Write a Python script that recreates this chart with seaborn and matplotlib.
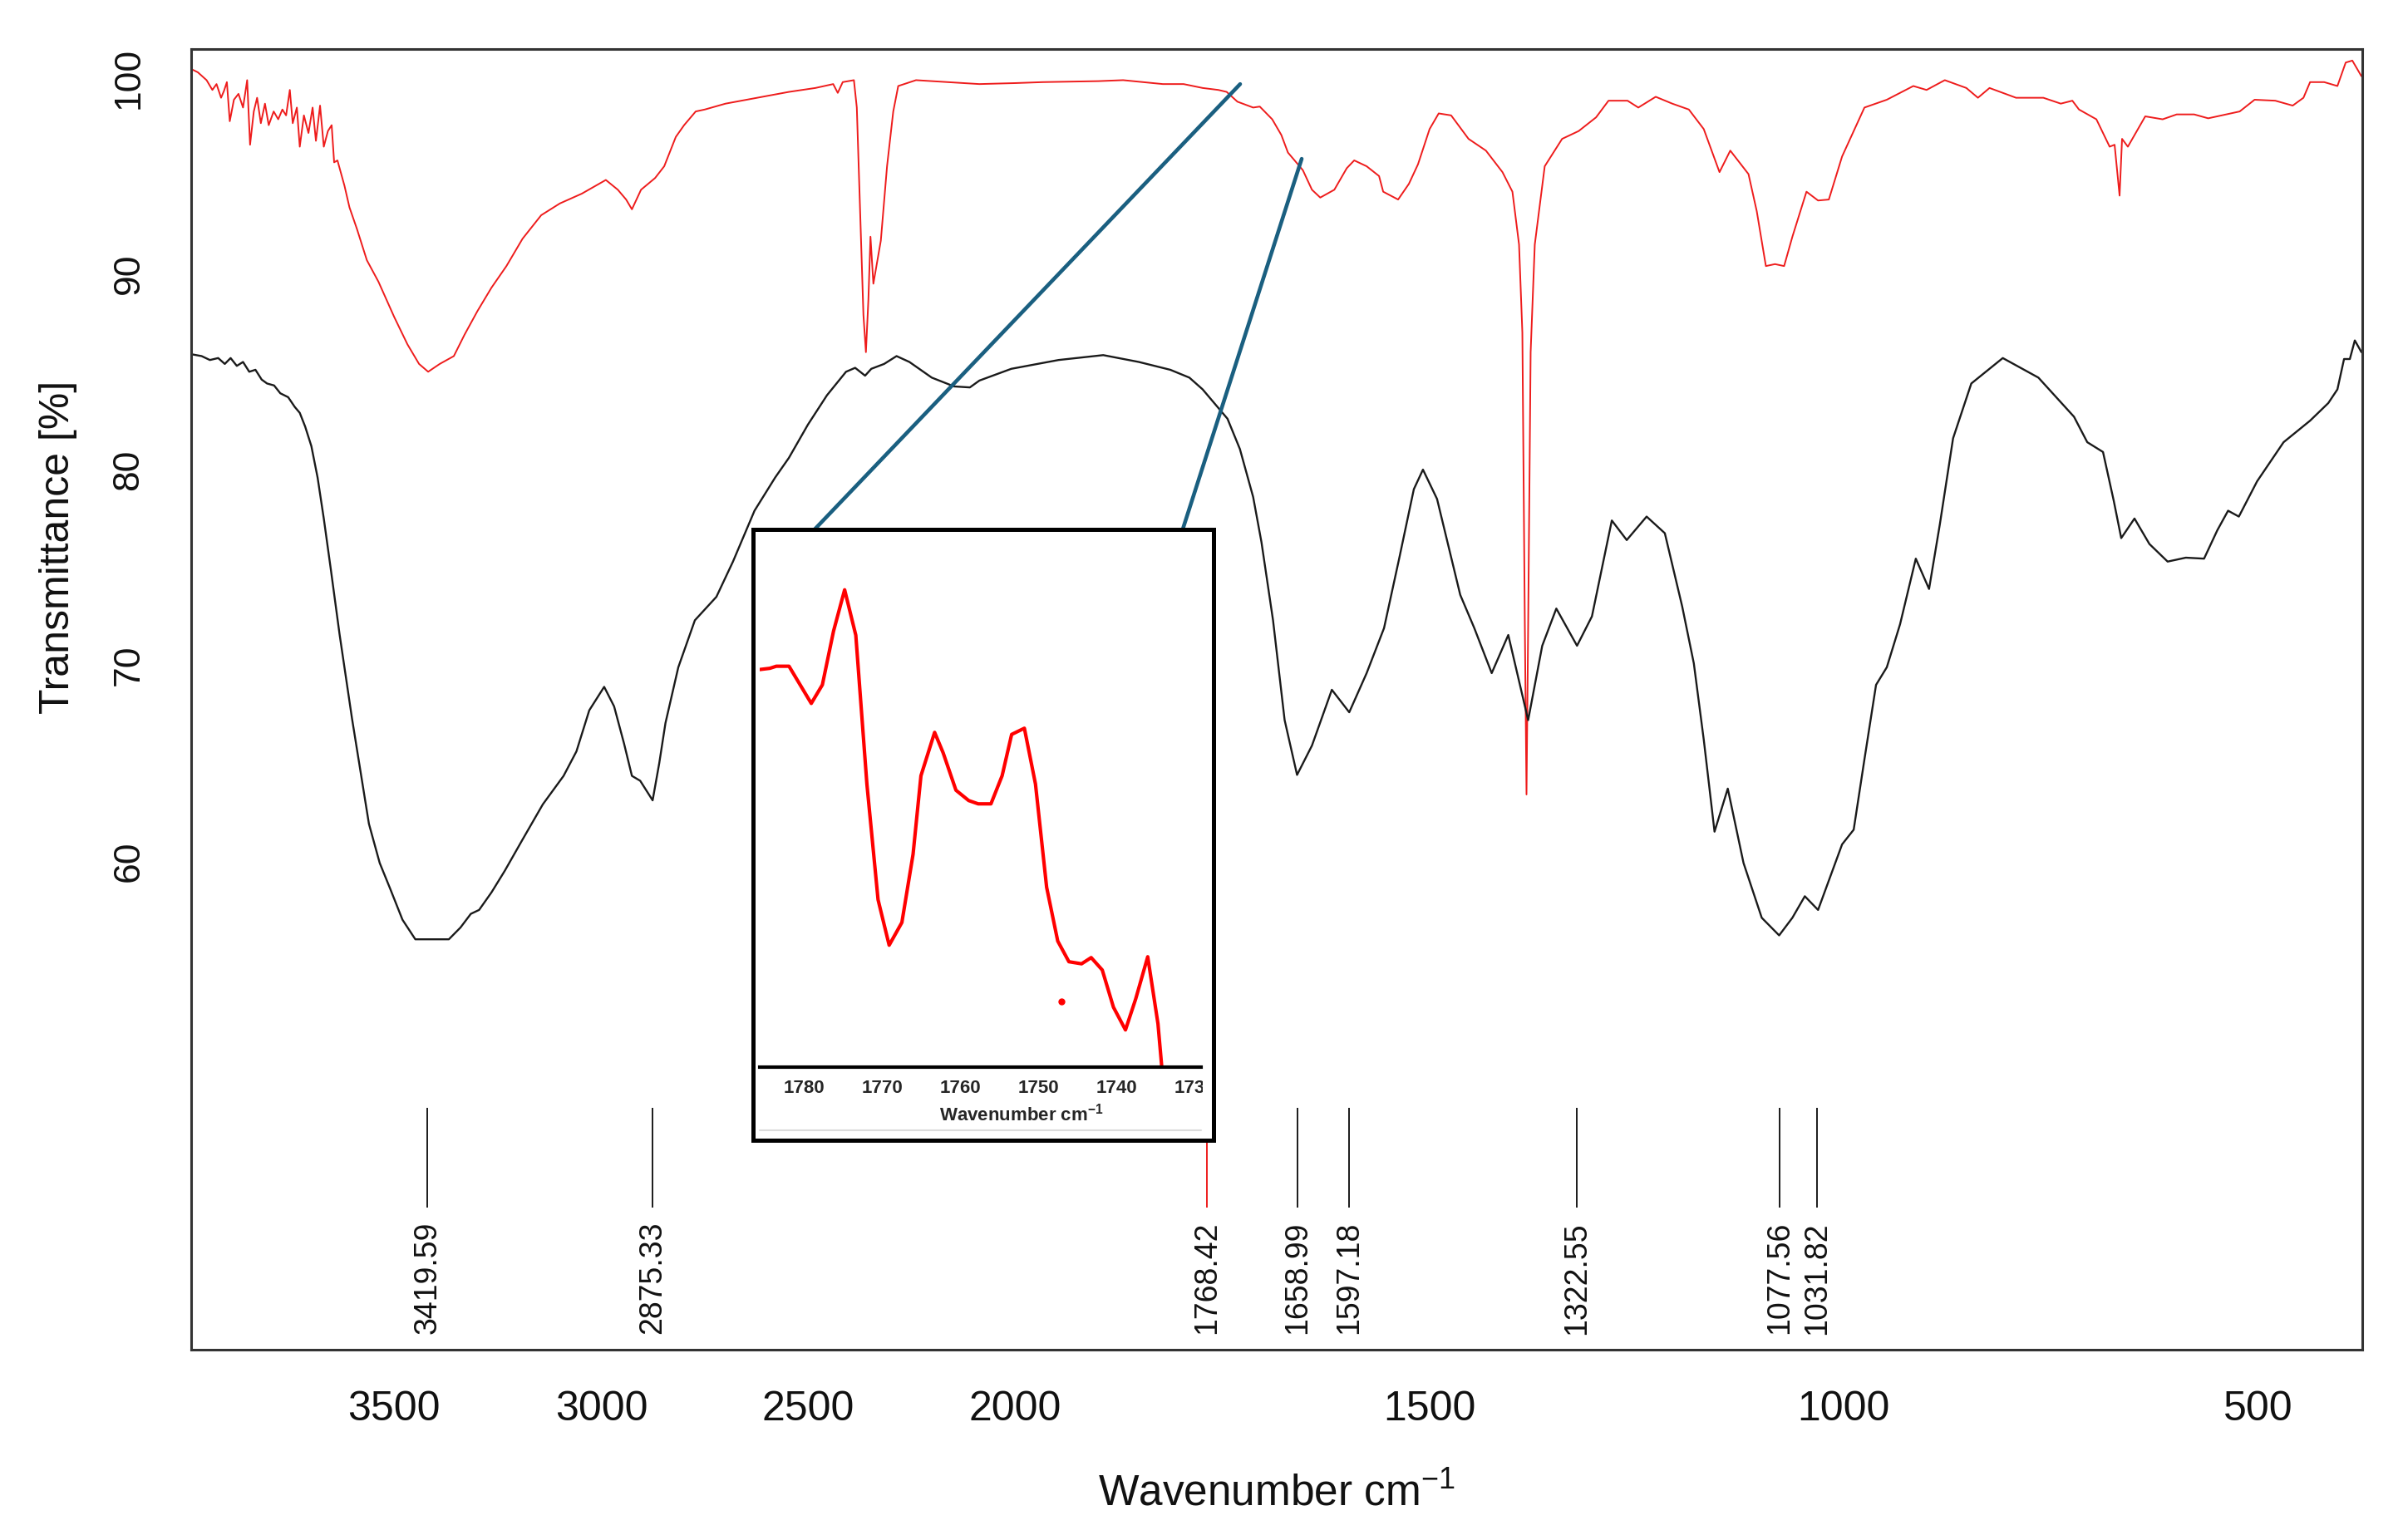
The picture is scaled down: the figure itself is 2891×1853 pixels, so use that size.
import numpy as np
import pandas as pd
import matplotlib
matplotlib.use("Agg")
import matplotlib.pyplot as plt
import seaborn as sns
from matplotlib.patches import ConnectionPatch
from matplotlib.ticker import FixedLocator, MultipleLocator
from matplotlib.transforms import Bbox, TransformedBbox

# --------------------------------------------------------------
# Data
# --------------------------------------------------------------
red_wavenumber = [
    3993, 3974, 3953, 3939, 3929, 3918, 3911, 3904, 3897, 3887, 3876, 3865, 3855, 3848,
    3839, 3831, 3822, 3812, 3803, 3791, 3780, 3770, 3761, 3752, 3745, 3735, 3728, 3718,
    3707, 3697, 3689, 3679, 3670, 3660, 3651, 3645, 3637, 3620, 3608, 3590, 3566, 3538,
    3500, 3468, 3440, 3418, 3390, 3356, 3330, 3299, 3265, 3229, 3190, 3145, 3100, 3047,
    2989, 2960, 2940, 2926, 2904, 2870, 2848, 2820, 2800, 2772, 2750, 2700, 2624, 2547,
    2483, 2440, 2429, 2417, 2390, 2383, 2375, 2367, 2361, 2355, 2350, 2343, 2325, 2310,
    2295, 2283, 2240, 2164, 2087, 2000, 1967, 1900, 1870, 1822, 1797, 1774, 1755, 1745,
    1732, 1713, 1705, 1690, 1679, 1671, 1653, 1642, 1632, 1615, 1600, 1591, 1576, 1561,
    1556, 1538, 1525, 1514, 1500, 1489, 1474, 1453, 1432, 1412, 1400, 1392, 1388, 1385,
    1383, 1381, 1378, 1373, 1361, 1340, 1320, 1299, 1284, 1261, 1248, 1227, 1207, 1187,
    1169, 1150, 1137, 1115, 1105, 1094, 1083, 1072, 1062, 1045, 1031, 1018, 1002, 975,
    948, 916, 900, 878, 852, 838, 824, 792, 759, 738, 724, 716, 695, 679,
    673, 667, 664, 657, 636, 615, 598, 577, 560, 522, 504, 479, 458, 445,
    437, 420, 404, 394, 386, 375,
]
red_transmittance = [
    100.5, 100.3, 99.9, 99.4, 99.7, 99.0, 99.35, 99.8, 97.8, 98.9, 99.2, 98.5, 99.9, 96.6,
    98.3, 99.0, 97.7, 98.7, 97.6, 98.3, 97.9, 98.4, 98.1, 99.4, 97.7, 98.5, 96.5, 98.1,
    97.2, 98.5, 96.8, 98.6, 96.5, 97.3, 97.6, 95.7, 95.8, 94.5, 93.4, 92.3, 90.7, 89.6,
    87.8, 86.4, 85.4, 85.0, 85.4, 85.8, 86.9, 88.1, 89.3, 90.4, 91.8, 93.0, 93.6, 94.1,
    94.8, 94.3, 93.8, 93.3, 94.3, 94.9, 95.5, 97.0, 97.6, 98.3, 98.4, 98.7, 99.0, 99.3,
    99.5, 99.7, 99.25, 99.8, 99.9, 98.5, 93.2, 87.9, 86.0, 88.7, 91.9, 89.5, 91.7, 95.5,
    98.3, 99.6, 99.9, 99.8, 99.7, 99.75, 99.8, 99.85, 99.9, 99.7, 99.7, 99.5, 99.4, 99.3,
    98.8, 98.5, 98.55, 97.9, 97.1, 96.2, 95.3, 94.3, 93.9, 94.3, 95.4, 95.8, 95.5, 95.0,
    94.2, 93.8, 94.6, 95.6, 97.4, 98.2, 98.1, 96.9, 96.3, 95.2, 94.2, 91.5, 87.0, 72.0,
    63.4, 72.0, 86.0, 91.5, 95.5, 96.9, 97.3, 98.0, 98.85, 98.85, 98.5, 99.05, 98.7, 98.4,
    97.4, 95.2, 96.3, 95.1, 93.2, 90.4, 90.5, 90.4, 91.9, 94.2, 93.75, 93.8, 96.0, 98.5,
    98.9, 99.6, 99.4, 99.9, 99.5, 99.0, 99.5, 99.0, 99.0, 98.7, 98.85, 98.4, 97.9, 96.5,
    96.6, 94.0, 96.9, 96.5, 98.05, 97.9, 98.15, 98.15, 97.95, 98.3, 98.9, 98.85, 98.6, 99.0,
    99.8, 99.8, 99.6, 100.8, 100.9, 100.1,
]

black_wavenumber = [
    3991, 3965, 3945, 3925, 3909, 3895, 3880, 3865, 3850, 3835, 3820, 3807, 3790, 3775,
    3756, 3740, 3728, 3715, 3700, 3685, 3670, 3653, 3632, 3602, 3561, 3535, 3510, 3480,
    3449, 3368, 3340, 3315, 3295, 3265, 3233, 3190, 3141, 3091, 3060, 3029, 2993, 2969,
    2945, 2926, 2906, 2876, 2860, 2845, 2814, 2774, 2722, 2682, 2630, 2580, 2547, 2501,
    2455, 2409, 2387, 2363, 2348, 2317, 2287, 2256, 2202, 2148, 2110, 2087, 2010, 1948,
    1894, 1851, 1813, 1790, 1774, 1744, 1729, 1713, 1703, 1689, 1675, 1660, 1642, 1618,
    1597, 1576, 1555, 1537, 1519, 1508, 1491, 1463, 1446, 1425, 1405, 1381, 1364, 1347,
    1322, 1304, 1280, 1262, 1238, 1216, 1195, 1181, 1169, 1156, 1140, 1121, 1099, 1078,
    1062, 1047, 1031, 1018, 1002, 988, 975, 961, 948, 932, 913, 897, 884, 868,
    846, 808, 765, 722, 706, 687, 674, 665, 649, 631, 609, 587, 565, 549,
    536, 523, 501, 469, 437, 415, 404, 396, 389, 383, 375,
]
black_transmittance = [
    85.9, 85.8, 85.6, 85.7, 85.4, 85.7, 85.3, 85.5, 85.0, 85.1, 84.6, 84.4, 84.3, 83.9,
    83.7, 83.2, 82.9, 82.2, 81.2, 79.6, 77.5, 74.9, 71.6, 67.3, 61.9, 59.9, 58.6, 57.0,
    56.0, 56.0, 56.6, 57.3, 57.5, 58.4, 59.5, 61.1, 62.9, 64.35, 65.6, 67.7, 68.9, 67.9,
    66.0, 64.35, 64.1, 63.1, 65.0, 67.05, 69.9, 72.3, 73.5, 75.3, 77.9, 79.6, 80.6, 82.3,
    83.8, 85.0, 85.2, 84.8, 85.15, 85.4, 85.8, 85.5, 84.7, 84.25, 84.2, 84.55, 85.15, 85.6,
    85.85, 85.5, 85.1, 84.7, 84.1, 82.6, 81.05, 78.6, 76.3, 72.3, 67.2, 64.4, 65.9, 68.75,
    67.6, 69.6, 71.9, 75.4, 79.0, 80.0, 78.5, 73.6, 71.9, 69.6, 71.55, 67.2, 71.0, 72.9,
    71.0, 72.5, 77.4, 76.4, 77.6, 76.75, 73.0, 70.1, 66.2, 61.5, 63.7, 59.9, 57.1, 56.2,
    57.1, 58.2, 57.5, 59.0, 60.85, 61.6, 65.2, 69.0, 69.9, 72.1, 75.45, 73.9, 77.2, 81.6,
    84.4, 85.7, 84.7, 82.7, 81.4, 80.9, 78.4, 76.5, 77.5, 76.2, 75.3, 75.5, 75.45, 76.9,
    77.9, 77.6, 79.4, 81.4, 82.5, 83.4, 84.1, 85.65, 85.65, 86.6, 86.0,
]

# zoomed carbonyl region of the red spectrum (relative signal, no y scale shown)
inset_wavenumber = [
    1785.70, 1784.40, 1783.58, 1781.95, 1779.10, 1777.68, 1776.25, 1774.83, 1773.40,
    1771.98, 1770.55, 1769.13, 1767.50, 1766.07, 1765.06, 1763.31, 1762.21, 1760.58,
    1758.95, 1757.73, 1756.10, 1754.67, 1753.45, 1751.82, 1750.40, 1748.97, 1747.55,
    1746.12, 1744.50, 1743.27, 1741.85, 1740.42, 1738.88, 1737.57, 1736.03, 1734.72,
    1734.23,
]
inset_signal = [
    96.2, 96.5, 97.0, 97.0, 88.0, 92.5, 105.5, 115.5, 104.5,
    68.5, 40.5, 29.5, 35.0, 51.5, 70.5, 81.0, 76.0, 67.0,
    64.5, 63.7, 63.7, 70.5, 80.5, 82.0, 68.5, 43.5, 30.5,
    25.5, 25.0, 26.5, 23.5, 14.5, 9.0, 16.5, 26.7, 10.5,
    0.0,
]
inset_dot_wavenumber = [1747.06]
inset_dot_signal = [15.8]

red_peaks = [1768.42]
black_peaks = [3419.59, 2875.33, 1658.99, 1597.18, 1322.55, 1077.56, 1031.82]

x_ticks = [3500, 3000, 2500, 2000, 1500, 1000, 500]
y_ticks = [60, 70, 80, 90, 100]
inset_ticks = [1780, 1770, 1760, 1750, 1740, 1730]

# --------------------------------------------------------------
# Style
# --------------------------------------------------------------
sns.set_theme(style="white")
plt.rcParams["font.family"] = ["Liberation Sans", "DejaVu Sans"]
plt.rcParams["mathtext.fontset"] = "custom"
plt.rcParams["mathtext.rm"] = "Liberation Sans"
plt.rcParams["mathtext.bf"] = "Liberation Sans:bold"
plt.rcParams["mathtext.default"] = "regular"

RED = "#ee1c1c"
INK = "#1a1a1a"
TEAL = "#1a5f80"
W, H = 2891, 1853

# FTIR style axis: scale doubles below 2000 cm-1
SPLIT = 2000.0


def fwd(x):
    x = np.asarray(x, dtype=float)
    return np.where(x >= SPLIT, x, 2 * x - SPLIT)


def inv(s):
    s = np.asarray(s, dtype=float)
    return np.where(s >= SPLIT, s, (s + SPLIT) / 2)


def px_rect(x0, y0, x1, y1):
    return [x0 / W, 1 - y1 / H, (x1 - x0) / W, (y1 - y0) / H]


red_df = pd.DataFrame({"wavenumber": red_wavenumber, "T": red_transmittance})
black_df = pd.DataFrame({"wavenumber": black_wavenumber, "T": black_transmittance})
inset_df = pd.DataFrame({"wavenumber": inset_wavenumber, "signal": inset_signal})

# %%
fig = plt.figure(figsize=(W / 100, H / 100), dpi=100)
ax = fig.add_axes(px_rect(229.6, 59, 2842, 1624))

sns.lineplot(data=red_df, x="wavenumber", y="T", color=RED, linewidth=1.4,
             estimator=None, sort=False, ax=ax)
sns.lineplot(data=black_df, x="wavenumber", y="T", color=INK, linewidth=1.7,
             estimator=None, sort=False, ax=ax)

ax.set_xscale("function", functions=(fwd, inv))
ax.set_xlim(3991, 374)
ax.set_ylim(35.03, 101.49)
ax.xaxis.set_major_locator(FixedLocator(x_ticks))
ax.set_xticklabels([str(t) for t in x_ticks])
ax.set_yticks(y_ticks)
ax.set_yticklabels([str(t) for t in y_ticks])

ax.tick_params(axis="both", direction="out", length=19, width=1.5, color="#333333",
               labelcolor="#111111")
ax.tick_params(axis="x", pad=16, labelsize=36)
ax.tick_params(axis="y", pad=20, labelrotation=90, labelsize=32)
for lab in ax.get_yticklabels():
    lab.set_va("center")
for sp in ax.spines.values():
    sp.set_linewidth(2.2)
    sp.set_color("#333333")

ax.set_xlabel("Wavenumber cm$^{-1}$", fontsize=37, color="#111111")
ax.xaxis.set_label_coords(0.5, -0.111)
ax.xaxis.label.set_va("center")
ax.set_ylabel("Transmittance [%]", fontsize=36, color="#111111")
ax.yaxis.set_label_coords(-0.061, 0.617)
ax.yaxis.label.set_va("center")

# peak markers
ax.vlines(black_peaks, 42.3, 47.4, color=INK, linewidth=1.4)
ax.vlines(red_peaks, 42.3, 47.4, color=RED, linewidth=1.4)
for wn in black_peaks + red_peaks:
    ax.text(wn, 41.57, f"{wn:.2f}", rotation=90, ha="center", va="top",
            fontsize=27, color="#111111")

# %%
# inset: boxed zoom of the red spectrum
ax_box = fig.add_axes(px_rect(906, 637, 1460, 1372), zorder=3)
ax_box.set_xticks([])
ax_box.set_yticks([])
ax_box.set_xlim(0, 1)
ax_box.set_ylim(0, 1)
ax_box.set_facecolor("white")
for sp in ax_box.spines.values():
    sp.set_linewidth(3.6)
    sp.set_color("black")
ax_box.axhline(0.016, xmin=(914 - 906) / 554, xmax=(1445 - 906) / 554,
               color="#dcdcdc", linewidth=1.5)

ax_in = fig.add_axes(px_rect(914, 645, 1445, 1284), zorder=4)
ax_in.patch.set_alpha(0)
sns.lineplot(data=inset_df, x="wavenumber", y="signal", color="#ff0000",
             linewidth=3.0, estimator=None, sort=False, ax=ax_in)
ax_in.plot(inset_dot_wavenumber, inset_dot_signal, "o", color="#ff0000", markersize=5)
ax_in.set_xlim(1785.7, 1729.2)
ax_in.set_ylim(0, 128.5)
ax_in.set_yticks([])
ax_in.xaxis.set_major_locator(FixedLocator(inset_ticks))
ax_in.xaxis.set_minor_locator(MultipleLocator(2.5))
ax_in.set_xticklabels([str(t) for t in inset_ticks])
for side in ["top", "left", "right"]:
    ax_in.spines[side].set_visible(False)
ax_in.spines["bottom"].set_linewidth(3.0)
ax_in.spines["bottom"].set_color("black")
ax_in.tick_params(axis="x", which="major", direction="out", length=7, width=2,
                  color="black", pad=4, labelsize=16)
ax_in.tick_params(axis="x", which="minor", direction="out", length=4.5, width=1.5,
                  color="black")
clip = TransformedBbox(Bbox([[-0.02, -0.3], [1.004, 1.0]]), ax_in.transAxes)
for lab in ax_in.get_xticklabels():
    lab.set_fontweight("bold")
    lab.set_clip_box(clip)
    lab.set_clip_on(True)
ax_in.set_xlabel("Wavenumber cm$^{-1}$", fontsize=16, fontweight="bold")
ax_in.xaxis.set_label_coords(0.593, -0.0892)
ax_in.xaxis.label.set_va("center")
ax_in.set_ylabel("")

# connector lines from the main spectrum to the inset
for xy_main, xb in [((1728.7, 99.70), 0.1336), ((1654.4, 95.88), 0.933)]:
    con = ConnectionPatch(xyA=xy_main, coordsA="data", axesA=ax,
                          xyB=(xb, 1.0), coordsB="axes fraction", axesB=ax_box,
                          color=TEAL, linewidth=3.3, zorder=2)
    con.set_clip_on(False)
    fig.add_artist(con)

fig.savefig("out.png", dpi=100)
